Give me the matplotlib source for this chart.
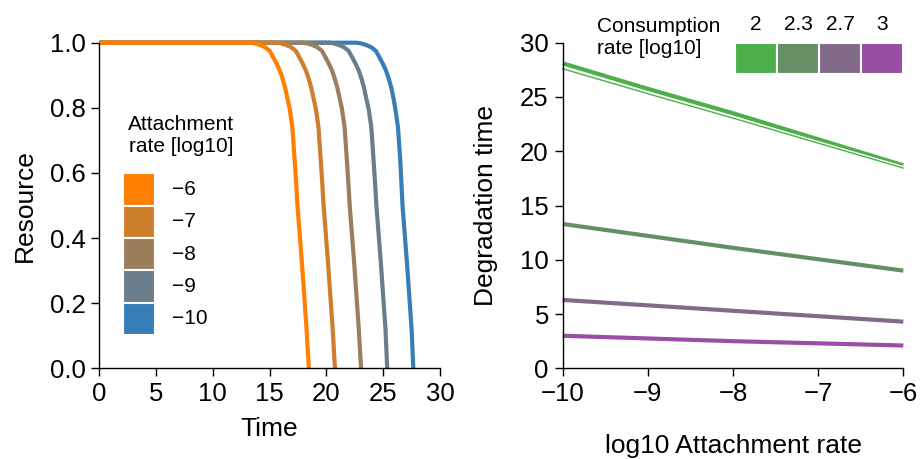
import numpy as np
import matplotlib
matplotlib.use("Agg")
from matplotlib import pyplot as plt
from matplotlib.patches import Rectangle
import matplotlib.patheffects as pe

plt.rcParams['font.family'] = ['Liberation Sans', 'DejaVu Sans']

# left panel: resource over time, one curve per attachment rate (log10)
attach_rates = [-6, -7, -8, -9, -10]
attach_colors = ['#ff7f00', '#cd7f2e', '#9b7e5c', '#697e8a', '#377eb8']
resource_levels = [1.0, 1.0, 0.998, 0.993, 0.986, 0.975, 0.955, 0.935, 0.914,
                   0.89, 0.863, 0.83, 0.80, 0.77, 0.74, 0.69, 0.64, 0.57,
                   0.50, 0.41, 0.32, 0.22, 0.12, 0.0]
time_m6 = [0, 13.3, 13.7, 14.15, 14.6, 15.0, 15.32, 15.62, 15.9, 16.13, 16.35,
           16.56, 16.75, 16.88, 17.0, 17.1, 17.2, 17.33, 17.45, 17.65, 17.85,
           18.05, 18.25, 18.45]
time_m7 = [0, 15.6, 16.0, 16.45, 16.9, 17.3, 17.62, 17.92, 18.2, 18.43, 18.65,
           18.86, 19.05, 19.18, 19.3, 19.4, 19.5, 19.63, 19.75, 19.95, 20.15,
           20.35, 20.55, 20.75]
time_m8 = [0, 17.9, 18.3, 18.75, 19.2, 19.6, 19.92, 20.22, 20.5, 20.73, 20.95,
           21.16, 21.35, 21.48, 21.6, 21.7, 21.8, 21.93, 22.05, 22.25, 22.45,
           22.65, 22.85, 23.05]
time_m9 = [0, 20.25, 20.65, 21.1, 21.55, 21.95, 22.27, 22.57, 22.85, 23.08,
           23.3, 23.5, 23.7, 23.83, 23.95, 24.05, 24.15, 24.28, 24.4, 24.6,
           24.8, 25.0, 25.2, 25.35]
time_m10 = [0, 22.65, 23.05, 23.5, 23.95, 24.35, 24.67, 24.97, 25.25, 25.48,
            25.7, 25.9, 26.05, 26.18, 26.3, 26.4, 26.5, 26.6, 26.7, 26.9,
            27.1, 27.3, 27.5, 27.65]
times = [time_m6, time_m7, time_m8, time_m9, time_m10]

# right panel: degradation time vs attachment rate, per consumption rate
log_attach = [-10, -9, -8, -7, -6]
consumption = ['2', '2.3', '2.7', '3']
cons_colors = ['#4daf4a', '#648f65', '#826b88', '#984ea3']
deg_c2 = [28.1, 25.75, 23.5, 21.1, 18.7]
deg_c2_thin = [27.6, 25.3, 23.05, 20.75, 18.45]
deg_c23 = [13.3, 12.2, 11.1, 10.05, 9.0]
deg_c27 = [6.3, 5.8, 5.3, 4.8, 4.3]
deg_c3 = [3.0, 2.75, 2.5, 2.3, 2.1]
deg_times = [deg_c2, deg_c23, deg_c27, deg_c3]

W, H = 921, 459
fig = plt.figure(figsize=(W / 100, H / 100), dpi=100)


def px(x, y):
    # pixel (from top-left) -> figure coords
    return x / W, 1 - y / H


def style(ax):
    for s in ['top', 'right']:
        ax.spines[s].set_visible(False)
    for s in ['left', 'bottom']:
        ax.spines[s].set_linewidth(1.0)
    ax.tick_params(direction='out', length=6, width=1.0, labelsize=18.5, pad=4)


ax1 = fig.add_axes([99.3 / W, (459 - 368.3) / H, 340.7 / W, 325.6 / H])
for t, c in list(zip(times, attach_colors))[::-1]:
    ax1.plot(t, resource_levels, color=c, lw=3, clip_on=False,
             solid_capstyle='butt', solid_joinstyle='round')
ax1.set_xlim(0, 30)
ax1.set_ylim(0, 1)
ax1.set_xticks([0, 5, 10, 15, 20, 25, 30])
ax1.set_yticks([0, 0.2, 0.4, 0.6, 0.8, 1.0])
ax1.set_yticklabels(['0.0', '0.2', '0.4', '0.6', '0.8', '1.0'])
style(ax1)
ax1.set_xlabel('Time', fontsize=19, va='center')
ax1.xaxis.set_label_coords(0.5, -0.186)
ax1.set_ylabel('Resource', fontsize=19, va='center')
ax1.yaxis.set_label_coords(-0.218, 0.5)

ax2 = fig.add_axes([562.7 / W, (459 - 368.3) / H, 340.6 / W, 325.6 / H])
for d, c in zip(deg_times, cons_colors):
    ax2.plot(log_attach, d, color=c, lw=3, clip_on=False, solid_capstyle='butt')
ax2.plot(log_attach, deg_c2_thin, color=cons_colors[0], lw=1, clip_on=False,
         path_effects=[pe.Stroke(linewidth=3, foreground='white'), pe.Normal()])
ax2.set_xlim(-10, -6)
ax2.set_ylim(0, 30)
ax2.set_xticks([-10, -9, -8, -7, -6])
ax2.set_yticks([0, 5, 10, 15, 20, 25, 30])
style(ax2)
ax2.set_xlabel('log10 Attachment rate', fontsize=19, va='center')
ax2.xaxis.set_label_coords(0.5, -0.239)
ax2.set_ylabel('Degradation time', fontsize=19, va='center')
ax2.yaxis.set_label_coords(-0.225, 0.5)

# left legend (vertical colour blocks)
fig.text(*px(181, 135), 'Attachment\nrate [log10]', fontsize=15,
         ha='center', va='center', linespacing=1.2)
for i, (r, c) in enumerate(zip(attach_rates, attach_colors)):
    x0, y0 = px(122.7, 173.3 + (i + 1) * 32.3)
    fig.patches.append(Rectangle((x0, y0), 32.3 / W, 32.3 / H, facecolor=c,
                                 edgecolor='white', lw=1.5,
                                 transform=fig.transFigure))
    fig.text(*px(171.7, 189.5 + i * 32.3), '\u2212%d' % abs(r), fontsize=15,
             ha='left', va='center')

# right legend (horizontal colour blocks)
fig.text(*px(596.7, 37), 'Consumption\nrate [log10]', fontsize=15,
         ha='left', va='center', linespacing=1.2)
for i, (lab, c) in enumerate(zip(consumption, cons_colors)):
    x0, y0 = px(735 + i * 42, 74)
    fig.patches.append(Rectangle((x0, y0), 42 / W, 31 / H, facecolor=c,
                                 edgecolor='white', lw=1.5,
                                 transform=fig.transFigure))
    fig.text(*px(756 + i * 42, 25), lab, fontsize=15, ha='center', va='center')

fig.savefig('out.png', dpi=100)
